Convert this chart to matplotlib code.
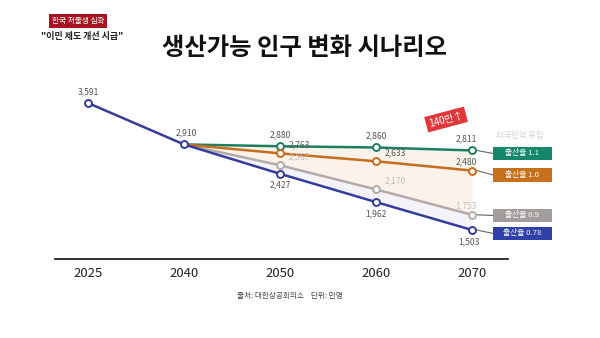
import numpy as np
import matplotlib
matplotlib.use("Agg")
import matplotlib.pyplot as plt
from matplotlib.patches import Rectangle

plt.rcParams['font.family'] = ['Noto Sans CJK KR', 'DejaVu Sans']

years = ['2025', '2040', '2050', '2060', '2070']
base = [3591, 2910]                      # common history 2025, 2040
green = [2910, 2880, 2860, 2811]          # 2040..2070
orange = [2910, 2763, 2633, 2480]
grey = [2910, 2567, 2170, 1753]
blue = [2910, 2427, 1962, 1503]
scenario_names = ['출산율 1.1', '출산율 1.0', '출산율 0.9', '출산율 0.78']
colors = ['#1d7f5f', '#c66d1e', '#b3abaa', '#353c9c']
box_colors = ['#15876a', '#c8701c', '#a29c9a', '#2f40a8']

fig = plt.figure(figsize=(6, 3.38), dpi=100)
ax = fig.add_axes([55 / 600, 1 - 259 / 338, 453 / 600, 169 / 338])
ax.set_xlim(-0.344, 4.375)
ax.set_ylim(1026, 3805)

xs_s = np.arange(1, 5)
series = [green, orange, grey, blue]

# soft fan shading
ax.fill_between(xs_s, green, orange, color='#f8ebe0', alpha=0.6, lw=0)
ax.fill_between(xs_s, orange, grey, color='#fcede2', alpha=0.7, lw=0)
ax.fill_between(xs_s, grey, blue, color='#ebebf6', alpha=0.6, lw=0)

for s, c, z in zip(series, colors, [3, 3, 2, 4]):
    ax.plot(xs_s, s, color=c, lw=1.8, zorder=z)
ax.plot([0, 1], base, color=colors[3], lw=1.8, zorder=4)

for s, c in zip(series, colors):
    ax.plot(xs_s[1:], s[1:], 'o', ms=5, mfc='white', mec=c, mew=1.4, zorder=6)
ax.plot([0, 1], base, 'o', ms=5, mfc='white', mec=colors[3], mew=1.4, zorder=6)

lab = dict(fontsize=6.2, color='#555555', ha='center')
ax.annotate(f'{base[0]:,}', (0, base[0]), xytext=(0, 5), textcoords='offset points', va='bottom', **lab)
ax.annotate(f'{base[1]:,}', (1, base[1]), xytext=(2, 5), textcoords='offset points', va='bottom', **lab)
for i in range(1, 4):
    x = xs_s[i]
    dx = 14 if i < 3 else -4
    ax.annotate(f'{green[i]:,}', (x, green[i]), xytext=(0 if i < 3 else -4, 5), textcoords='offset points',
                va='bottom', **lab)
    ax.annotate(f'{orange[i]:,}', (x, orange[i]), xytext=(dx, 3), textcoords='offset points', va='bottom', **lab)
    ax.annotate(f'{grey[i]:,}', (x, grey[i]), xytext=(dx, 3), textcoords='offset points', va='bottom',
                fontsize=6.2, color='#c4bfbf', ha='center')
    ax.annotate(f'{blue[i]:,}', (x, blue[i]), xytext=(-2 if i == 3 else 0, -5), textcoords='offset points',
                va='top', **lab)

# scenario tags at the right end
tag_y = [2761, 2408, 1742, 1446]
for s, name, bc, ty in zip(series, scenario_names, box_colors, tag_y):
    ax.plot([4.05, 4.22], [s[-1], ty], color='#666666', lw=0.8, zorder=5, clip_on=False)
    ax.add_patch(Rectangle((4.22, ty - 112), 0.61, 224, fc=bc, ec='none', zorder=7, clip_on=False))
    ax.text(4.525, ty, name, fontsize=5.6, color='white', ha='center', va='center', zorder=8)

ax.text(4.5, 3060, '외국인력 유입', fontsize=6, color='#dccdd0', ha='center', va='center')
ax.text(3.73, 3320, '140만↑', fontsize=7, color='white', ha='center', va='center', rotation=15,
        bbox=dict(boxstyle='square,pad=0.3', fc='#e0383a', ec='none'))

# axis styling
for sp in ['top', 'right', 'left']:
    ax.spines[sp].set_visible(False)
ax.spines['bottom'].set_color('#222222')
ax.spines['bottom'].set_linewidth(1.3)
ax.set_yticks([])
ax.set_xticks(range(5))
ax.set_xticklabels(years, fontsize=9.5, color='#222222', fontweight='medium')
ax.tick_params(axis='x', length=0, pad=6)

# header and title
fig.text(78 / 600, 1 - 21 / 338, '한국 저출생 심화', fontsize=5.5, color='white', ha='center', va='center',
         bbox=dict(boxstyle='square,pad=0.35', fc='#a51420', ec='none'))
fig.text(82 / 600, 1 - 37 / 338, '"이민 제도 개선 시급"', fontsize=6.5, color='#222222',
         ha='center', va='center', fontweight='bold')
fig.text(305 / 600, 1 - 48 / 338, '생산가능 인구 변화 시나리오', fontsize=17.5, color='#111111',
         ha='center', va='center', fontweight='bold')
fig.text(290 / 600, 1 - 296 / 338, '출처: 대한상공회의소    단위: 만명', fontsize=5.5, color='#444444',
         ha='center', va='center')

fig.savefig('out.png', dpi=100)
